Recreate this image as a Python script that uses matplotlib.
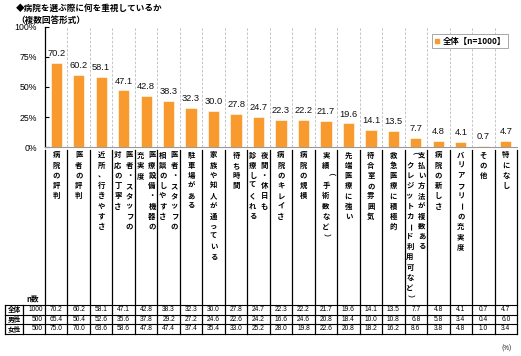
import numpy as np
import matplotlib
matplotlib.use('Agg')
import matplotlib.pyplot as plt
from matplotlib.transforms import blended_transform_factory
from matplotlib.lines import Line2D

plt.rcParams['font.family'] = ['Noto Sans CJK JP', 'DejaVu Sans']

# ---------------- data ----------------
categories = [
    ['病院の評判'],
    ['医者の評判'],
    ['近所、行きやすさ'],
    ['医者・スタッフの', '対応の丁寧さ'],
    ['医療設備・機器の', '充実度'],
    ['医者・スタッフの', '相談のしやすさ'],
    ['駐車場がある'],
    ['家族や知人が通っている'],
    ['待ち時間'],
    ['夜間・休日も', '診療してくれる'],
    ['病院のキレイさ'],
    ['病院の規模'],
    ['実績（手術数など）'],
    ['先端医療に強い'],
    ['待合室の雰囲気'],
    ['救急医療に積極的'],
    ['支払い方法が複数ある', '（クレジットカード利用可など）'],
    ['病院の新しさ'],
    ['バリアフリーの充実度'],
    ['その他'],
    ['特になし'],
]
total = [70.2, 60.2, 58.1, 47.1, 42.8, 38.3, 32.3, 30.0, 27.8, 24.7, 22.3,
         22.2, 21.7, 19.6, 14.1, 13.5, 7.7, 4.8, 4.1, 0.7, 4.7]
male = [65.4, 50.4, 52.6, 35.6, 37.8, 29.2, 27.2, 24.6, 22.6, 24.2, 16.6,
        24.6, 20.8, 18.4, 10.0, 10.8, 6.8, 5.8, 3.4, 0.4, 6.0]
female = [75.0, 70.0, 63.6, 58.6, 47.8, 47.4, 37.4, 35.4, 33.0, 25.2, 28.0,
          19.8, 22.6, 20.8, 18.2, 16.2, 8.6, 3.8, 4.8, 1.0, 3.4]
row_labels = ['全体', '男性', '女性']
n_values = [1000, 500, 500]
yticks = [0, 25, 50, 75, 100]
ytick_labels = ['0%', '25%', '50%', '75%', '100%']
legend_label = '全体【n=1000】'
title1 = '◆病院を選ぶ際に何を重視しているか'
title2 = '（複数回答形式）'

ORANGE = '#F99A2E'
NUMFONT = ['Liberation Sans', 'DejaVu Sans']
JPFONT = ['Noto Sans CJK JP', 'DejaVu Sans']

W, H = 521, 356
fig = plt.figure(figsize=(W / 100, H / 100), dpi=100)


def fx(p):
    return p / W


def fy(p):
    return 1 - p / H


ax = fig.add_axes([fx(45), fy(147), fx(517) - fx(45), fy(27) - fy(147)])
x = np.arange(len(total))
ax.bar(x, total, width=0.5, color=ORANGE, edgecolor='white', linewidth=0.4,
       zorder=3)
for xi, v in zip(x, total):
    ax.annotate(f'{v:.1f}', (xi, v), xytext=(0, 3.5), textcoords='offset points',
                ha='center', va='bottom', fontsize=6.7, family=NUMFONT,
                color='#111111')
ax.set_xlim(-0.5, len(total) - 0.5)
ax.set_ylim(0, 100)
ax.set_yticks(yticks, ytick_labels)
ax.set_xticks([])
for lab in ax.get_yticklabels():
    lab.set_fontfamily(NUMFONT)
    lab.set_fontsize(6.3)
ax.tick_params(axis='y', direction='in', length=3, width=0.8, pad=6)
for b in np.arange(0.5, len(total) + 0.5, 1.0):
    ax.axvline(b, color='#BBBBBB', ls=(0, (3, 2)), lw=0.6, zorder=1)
for s in ['top', 'right']:
    ax.spines[s].set_visible(False)
ax.spines['left'].set_color('black')
ax.spines['left'].set_linewidth(0.9)
ax.spines['bottom'].set_color('#999999')
ax.spines['bottom'].set_linewidth(0.8)

# legend
handle = Line2D([], [], marker='s', color=ORANGE, ls='', markersize=3.5)
leg = ax.legend([handle], [legend_label], loc='upper right',
                bbox_to_anchor=(0.99, 0.975), fancybox=False,
                prop={'family': JPFONT, 'size': 6, 'weight': 'bold'},
                handletextpad=0.2, borderpad=0.3, handlelength=0.8,
                framealpha=1)
leg.get_frame().set_edgecolor('#999999')
leg.get_frame().set_linewidth(0.6)

# titles
fig.text(fx(16), fy(8), title1, fontsize=6.2, fontweight='bold',
         family=JPFONT, va='center', ha='left')
fig.text(fx(16), fy(20), title2, fontsize=6.2, fontweight='bold',
         family=JPFONT, va='center', ha='left')

# vertical category labels
trans = blended_transform_factory(ax.transData, fig.transFigure)
ROT = set('ー（）')
for i, lines in enumerate(categories):
    nl = len(lines)
    offs = [0.0] if nl == 1 else [0.26, -0.26]
    for j, line in enumerate(lines):
        for k, ch in enumerate(line):
            ypx = 155 + 10.2 * k
            rot = -90 if ch in ROT else 0
            fig.text(i + offs[j], fy(ypx), ch, transform=trans, ha='center',
                     va='center', fontsize=5.3, fontweight='bold',
                     family=JPFONT, rotation=rot)

# column separator lines (labels + table)
for b in np.arange(-0.5, len(total) + 0.5, 1.0):
    fig.add_artist(Line2D([b, b], [fy(150), fy(334)], transform=trans,
                          color='black', lw=0.9))
for xp in [5, 23]:
    fig.add_artist(Line2D([fx(xp), fx(xp)], [fy(305), fy(334)],
                          transform=fig.transFigure, color='black', lw=0.9))
for yp in [305, 314.5, 324, 334]:
    fig.add_artist(Line2D([fx(5), fx(517)], [fy(yp), fy(yp)],
                          transform=fig.transFigure, color='black', lw=0.8))

fig.text(fx(33), fy(299), 'n数', fontsize=5.5, fontweight='bold',
         family=JPFONT, ha='center', va='center')

row_y = [309.8, 319.3, 329]
for r, (lab, nv, vals) in enumerate(zip(row_labels, n_values,
                                          [total, male, female])):
    fig.text(fx(14), fy(row_y[r]), lab, fontsize=4.8, fontweight='bold',
             family=JPFONT, ha='center', va='center')
    fig.text(fx(43), fy(row_y[r]), str(nv), fontsize=4.8, family=NUMFONT,
             ha='right', va='center')
    for i, v in enumerate(vals):
        fig.text(i, fy(row_y[r]), f'{v:.1f}', transform=trans, fontsize=4.8,
                 family=NUMFONT, ha='center', va='center')

fig.text(fx(512), fy(349), '(%)', fontsize=4.5, family=JPFONT,
         ha='right', va='center')

fig.savefig('out.png', dpi=100)
